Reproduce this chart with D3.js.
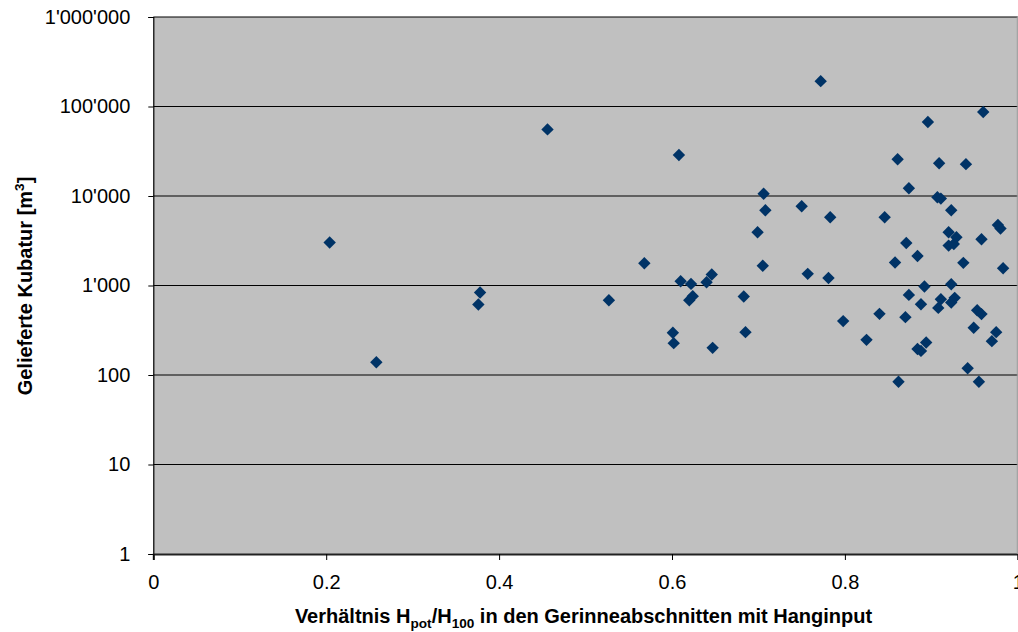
<!DOCTYPE html>
<html>
<head>
<meta charset="utf-8">
<script src="https://cdn.jsdelivr.net/npm/d3@7"></script>
<style>
  html, body { margin: 0; padding: 0; background: #fff; overflow: hidden; }
  svg { display: block; font-family: "Liberation Sans", Arial, sans-serif; }
</style>
</head>
<body>
<svg id="chart" width="1018" height="632"></svg>
<script>
// Ratio H_pot / H_100 per channel section with slope input
const ratio = [
  0.204, 0.258, 0.378, 0.376, 0.456, 0.527, 0.568,
  0.772, 0.960, 0.896, 0.608, 0.861, 0.909, 0.940, 0.874, 0.706,
  0.907, 0.911, 0.708, 0.750, 0.783, 0.923, 0.846, 0.699, 0.920,
  0.929, 0.977, 0.980, 0.958, 0.871, 0.920, 0.926, 0.884,
  0.858, 0.937, 0.983, 0.705, 0.757, 0.781, 0.610, 0.622, 0.640,
  0.646, 0.923, 0.892, 0.624, 0.620, 0.683, 0.874, 0.888, 0.911,
  0.908, 0.927, 0.923, 0.953, 0.958, 0.840, 0.870, 0.798, 0.601,
  0.602, 0.685, 0.647, 0.825, 0.949, 0.975, 0.970, 0.894, 0.884,
  0.888, 0.942, 0.862, 0.955
];

// Delivered volume in m³
const volume = [
  3020, 139, 836, 614, 55500, 685, 1774,
  192000, 86700, 67000, 28700, 25700, 23200, 22700, 12200, 10600,
  9670, 9350, 6920, 7680, 5780, 6920, 5780, 3940, 3940,
  3460, 4740, 4320, 3290, 2990, 2790, 2910, 2140,
  1810, 1790, 1560, 1660, 1350, 1215, 1117, 1042, 1088,
  1327, 1034, 975, 760, 685, 754, 785, 618, 703,
  562, 728, 646, 530, 479, 482, 443, 400, 296,
  227, 301, 201, 247, 337, 301, 239, 231, 195,
  186, 119, 84, 84
];

const xTicks = [0, 0.2, 0.4, 0.6, 0.8, 1];
const yTicks = [1, 10, 100, 1000, 10000, 100000, 1000000];

const xTitleParts = [
  { text: "Verhältnis H" }, { text: "pot", sub: true },
  { text: "/H" }, { text: "100", sub: true },
  { text: " in den Gerinneabschnitten mit Hanginput" }
];
const yTitleParts = [
  { text: "Gelieferte Kubatur [m" }, { text: "3", sup: true }, { text: "]" }
];

const svg = d3.select("#chart");
const plot = { left: 153.3, right: 1017.8, top: 17, bottom: 554 };

const x = d3.scaleLinear().domain([0, 1]).range([plot.left, plot.right]);
const y = d3.scaleLog().domain([1, 1000000]).range([plot.bottom, plot.top]);

const apos = d3.formatLocale({ decimal: ".", thousands: "'", grouping: [3], currency: ["", ""] });
const fmtY = apos.format(",d");
const fmtX = d => d === 0 ? "0" : d === 1 ? "1" : d3.format(".1f")(d);

const tickFont = 20;
const titleFont = 20;

// plot background
svg.append("rect")
  .attr("x", plot.left).attr("y", plot.top)
  .attr("width", plot.right - plot.left).attr("height", plot.bottom - plot.top)
  .attr("fill", "#c0c0c0");

// horizontal gridlines at each decade
svg.append("g")
  .selectAll("line")
  .data(yTicks.filter(d => d > 1))
  .join("line")
  .attr("x1", plot.left).attr("x2", plot.right)
  .attr("y1", d => y(d)).attr("y2", d => y(d))
  .attr("stroke", "#000").attr("stroke-width", 1.2);

// y axis
const yAxis = svg.append("g")
  .attr("transform", `translate(${plot.left},0)`)
  .call(d3.axisLeft(y).tickValues(yTicks).tickFormat(fmtY).tickSize(5).tickPadding(18));
yAxis.select(".domain").attr("stroke", "#000").attr("stroke-width", 1.2);
yAxis.selectAll(".tick line").attr("stroke", "#000");
yAxis.selectAll("text").attr("font-size", tickFont).attr("fill", "#000")
  .attr("font-family", "Liberation Sans, Arial, sans-serif");

// x axis
const xAxis = svg.append("g")
  .attr("transform", `translate(0,${plot.bottom})`)
  .call(d3.axisBottom(x).tickValues(xTicks).tickFormat(fmtX).tickSize(6).tickPadding(15));
xAxis.select(".domain").attr("stroke", "#222").attr("stroke-width", 2);
xAxis.selectAll(".tick line").attr("stroke", "#000");
xAxis.selectAll("text").attr("font-size", tickFont).attr("fill", "#000")
  .attr("font-family", "Liberation Sans, Arial, sans-serif");

// right edge of plot area
svg.append("line")
  .attr("x1", plot.right - 0.5).attr("x2", plot.right - 0.5)
  .attr("y1", plot.top).attr("y2", plot.bottom)
  .attr("stroke", "#9a9a9a").attr("stroke-width", 1);

// data points as diamonds
const r = 6.2;
const diamond = `M0,${-r}L${r},0L0,${r}L${-r},0Z`;
svg.append("g")
  .selectAll("path")
  .data(ratio.map((v, i) => [v, volume[i]]))
  .join("path")
  .attr("d", diamond)
  .attr("transform", d => `translate(${x(d[0])},${y(d[1])})`)
  .attr("fill", "#003366");

// axis titles with sub/superscripts
function richText(sel, parts, size) {
  let offset = 0;
  parts.forEach(p => {
    const ts = sel.append("tspan").text(p.text);
    if (p.sub) {
      ts.attr("font-size", size * 0.68).attr("dy", size * 0.25 - offset);
      offset = size * 0.25;
    } else if (p.sup) {
      ts.attr("font-size", size * 0.68).attr("dy", -size * 0.42 - offset);
      offset = -size * 0.42;
    } else if (offset !== 0) {
      ts.attr("dy", -offset);
      offset = 0;
    }
  });
}

const xt = svg.append("text")
  .attr("x", 583.5).attr("y", 623)
  .attr("text-anchor", "middle")
  .attr("font-size", titleFont).attr("font-weight", "bold").attr("fill", "#000");
richText(xt, xTitleParts, titleFont);

const yt = svg.append("text")
  .attr("transform", "translate(32,286) rotate(-90)")
  .attr("text-anchor", "middle")
  .attr("font-size", titleFont).attr("font-weight", "bold").attr("fill", "#000");
richText(yt, yTitleParts, titleFont);
</script>
</body>
</html>
